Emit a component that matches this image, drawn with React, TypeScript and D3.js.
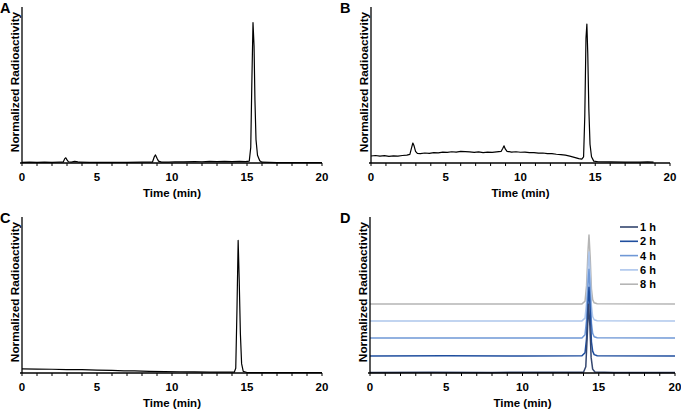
import React from "react";
import * as d3 from "d3";

type Pt = [number, number];

const tickValues = [0, 5, 10, 15, 20];
const minorTicks = d3.range(0, 21, 1);
const xTitle = "Time (min)";
const yTitle = "Normalized Radioactivity";

const traceA: Pt[] = [
  [0, 0.004], [0.5, 0.005], [1, 0.004], [1.5, 0.005], [2, 0.004], [2.5, 0.005], [2.75, 0.006],
  [2.85, 0.028], [2.92, 0.033], [3.0, 0.02], [3.1, 0.008], [3.3, 0.006], [3.5, 0.01], [3.65, 0.009],
  [3.8, 0.005], [4.5, 0.004], [5, 0.004], [6, 0.004], [7, 0.004], [8, 0.005], [8.7, 0.006],
  [8.82, 0.04], [8.9, 0.052], [9.0, 0.03], [9.1, 0.012], [9.3, 0.006], [9.8, 0.005], [10.2, 0.008],
  [10.8, 0.007], [11.5, 0.009], [12, 0.008], [12.5, 0.01], [13, 0.009], [13.5, 0.01], [14, 0.009],
  [14.5, 0.011], [14.9, 0.009], [15.15, 0.012], [15.25, 0.1], [15.32, 0.5], [15.4, 0.9], [15.47, 0.75],
  [15.53, 0.4], [15.6, 0.15], [15.7, 0.05], [15.85, 0.015], [16, 0.005], [17, 0.003], [18, 0.003],
  [19, 0.003], [20, 0.003],
];

const traceB: Pt[] = [
  [0, 0.045], [0.3, 0.048], [0.6, 0.044], [0.9, 0.047], [1.2, 0.043], [1.5, 0.046], [1.8, 0.044],
  [2.1, 0.048], [2.4, 0.05], [2.6, 0.055], [2.72, 0.1], [2.8, 0.128], [2.88, 0.11], [2.98, 0.075],
  [3.1, 0.062], [3.3, 0.06], [3.6, 0.064], [3.9, 0.062], [4.2, 0.066], [4.5, 0.065], [4.8, 0.07],
  [5.1, 0.068], [5.4, 0.072], [5.7, 0.07], [6.0, 0.074], [6.3, 0.073], [6.6, 0.071], [6.9, 0.068],
  [7.2, 0.071], [7.5, 0.067], [7.8, 0.07], [8.1, 0.068], [8.4, 0.071], [8.7, 0.074], [8.82, 0.095],
  [8.9, 0.11], [8.98, 0.09], [9.1, 0.075], [9.4, 0.07], [9.7, 0.072], [10, 0.069], [10.3, 0.07],
  [10.6, 0.066], [10.9, 0.067], [11.2, 0.063], [11.5, 0.064], [11.8, 0.06], [12.1, 0.06], [12.4, 0.056],
  [12.7, 0.054], [13, 0.05], [13.3, 0.044], [13.6, 0.036], [13.9, 0.028], [14.1, 0.025], [14.22, 0.04],
  [14.3, 0.3], [14.38, 0.8], [14.44, 0.89], [14.5, 0.7], [14.57, 0.35], [14.65, 0.12], [14.75, 0.04],
  [14.9, 0.012], [15.2, 0.008], [16, 0.007], [17, 0.006], [18, 0.006], [18.5, 0.007], [18.9, 0.005],
];

const traceC: Pt[] = [
  [0, 0.026], [1, 0.025], [2, 0.024], [3, 0.022], [4, 0.021], [5, 0.019], [6, 0.017], [6.8, 0.014],
  [7.5, 0.013], [8.5, 0.011], [9.5, 0.009], [10.5, 0.008], [11.5, 0.007], [12.5, 0.006], [13.5, 0.005],
  [14.15, 0.005], [14.25, 0.03], [14.33, 0.4], [14.41, 0.85], [14.48, 0.6], [14.56, 0.25], [14.64, 0.06],
  [14.75, 0.01], [15, 0.003], [16, 0.002], [20, 0.002],
];

const series1h: Pt[] = [
  [0, 0.004], [4, 0.005], [8, 0.004], [12, 0.005], [14.0, 0.005], [14.15, 0.04], [14.25, 0.25],
  [14.33, 0.44], [14.42, 0.3], [14.5, 0.1], [14.6, 0.025], [14.75, 0.006], [16, 0.004], [20, 0.004],
];
const series2h: Pt[] = [
  [0, 0.109], [5, 0.11], [10, 0.109], [13.9, 0.11], [14.1, 0.13], [14.2, 0.22], [14.3, 0.45],
  [14.36, 0.55], [14.44, 0.4], [14.52, 0.2], [14.6, 0.14], [14.7, 0.118], [14.9, 0.111], [20, 0.109],
];
const series4h: Pt[] = [
  [0, 0.224], [5, 0.225], [10, 0.224], [13.9, 0.225], [14.1, 0.245], [14.2, 0.34], [14.3, 0.57],
  [14.36, 0.665], [14.44, 0.52], [14.52, 0.32], [14.6, 0.255], [14.7, 0.232], [14.9, 0.226], [20, 0.224],
];
const series6h: Pt[] = [
  [0, 0.333], [5, 0.334], [10, 0.333], [13.9, 0.334], [14.1, 0.352], [14.2, 0.45], [14.3, 0.68],
  [14.36, 0.775], [14.44, 0.63], [14.52, 0.43], [14.6, 0.362], [14.7, 0.341], [14.9, 0.335], [20, 0.333],
];
const series8h: Pt[] = [
  [0, 0.442], [5, 0.443], [10, 0.442], [13.9, 0.443], [14.1, 0.46], [14.2, 0.56], [14.3, 0.79],
  [14.36, 0.885], [14.44, 0.74], [14.52, 0.54], [14.6, 0.47], [14.7, 0.45], [14.9, 0.444], [20, 0.442],
];

const seriesLabels = ["1 h", "2 h", "4 h", "6 h", "8 h"];
const seriesD = [series1h, series2h, series4h, series6h, series8h];
const seriesColors = ["#34466f", "#1f4e9e", "#6f98d6", "#adc6ec", "#b5b5b5"];

const FONT = "'Liberation Sans', Arial, sans-serif";

type PanelProps = {
  letter: string;
  lx: number;
  x0: number;
  x1: number;
  yb: number;
  traces: Pt[][];
  colors: string[];
  widths: number[];
  legend?: boolean;
};

function Panel({ letter, lx, x0, x1, yb, traces, colors, widths, legend }: PanelProps) {
  const x = d3.scaleLinear().domain([0, 20]).range([x0, x1]);
  const y = d3.scaleLinear().domain([0, 1]).range([yb, yb - 156]);
  const line = d3
    .line<Pt>()
    .x((d) => x(d[0]))
    .y((d) => y(d[1]));
  const order = traces.map((_, i) => i).reverse();
  return (
    <g>
      <text x={lx} y={yb - 150} fontFamily={FONT} fontWeight="bold" fontSize={14.5}>
        {letter}
      </text>
      {order.map((i) => (
        <path key={i} d={line(traces[i]) || ""} fill="none" stroke={colors[i]} strokeWidth={widths[i]} strokeLinejoin="round" />
      ))}
      <line x1={x0} x2={x0} y1={y(1)} y2={yb} stroke="#000" strokeWidth={1.3} />
      <line x1={x0 - 2} x2={x1} y1={yb} y2={yb} stroke="#000" strokeWidth={1.3} />
      {minorTicks.map((t) => (
        <line key={t} x1={x(t)} x2={x(t)} y1={yb} y2={yb + 3} stroke="#000" strokeWidth={1} />
      ))}
      {tickValues.map((t) => (
        <text key={t} x={x(t)} y={yb + 18} textAnchor="middle" fontFamily={FONT} fontWeight="bold" fontSize={11.5}>
          {t}
        </text>
      ))}
      <text x={(x0 + x1) / 2} y={yb + 34} textAnchor="middle" fontFamily={FONT} fontWeight="bold" fontSize={11.5}>
        {xTitle}
      </text>
      <text
        transform={`translate(${x0 - 3.5},${yb - 81}) rotate(-90)`}
        textAnchor="middle"
        fontFamily={FONT}
        fontWeight="bold"
        fontSize={11.8}
      >
        {yTitle}
      </text>
      {legend &&
        seriesLabels.map((s, i) => (
          <g key={s}>
            <line x1={620} x2={638} y1={yb - 146 + i * 14.3} y2={yb - 146 + i * 14.3} stroke={colors[i]} strokeWidth={1.6} />
            <text x={640} y={yb - 142 + i * 14.3} fontFamily={FONT} fontWeight="bold" fontSize={11}>
              {s}
            </text>
          </g>
        ))}
    </g>
  );
}

export default function App() {
  return (
    <svg
      width={681}
      height={409}
      style={{ position: "absolute", left: 0, top: 0, background: "#fff" }}
    >
      <rect width={681} height={409} fill="#fff" />
      <Panel letter="A" lx={0} x0={22} x1={322} yb={163} traces={[traceA]} colors={["#000"]} widths={[1.2]} />
      <Panel letter="B" lx={340} x0={371} x1={670} yb={163} traces={[traceB]} colors={["#000"]} widths={[1.2]} />
      <Panel letter="C" lx={0} x0={22} x1={322} yb={373} traces={[traceC]} colors={["#000"]} widths={[1.2]} />
      <Panel
        letter="D"
        lx={340}
        x0={370}
        x1={675}
        yb={373}
        traces={seriesD}
        colors={seriesColors}
        widths={[1.5, 1.5, 1.5, 1.5, 1.5]}
        legend
      />
    </svg>
  );
}
